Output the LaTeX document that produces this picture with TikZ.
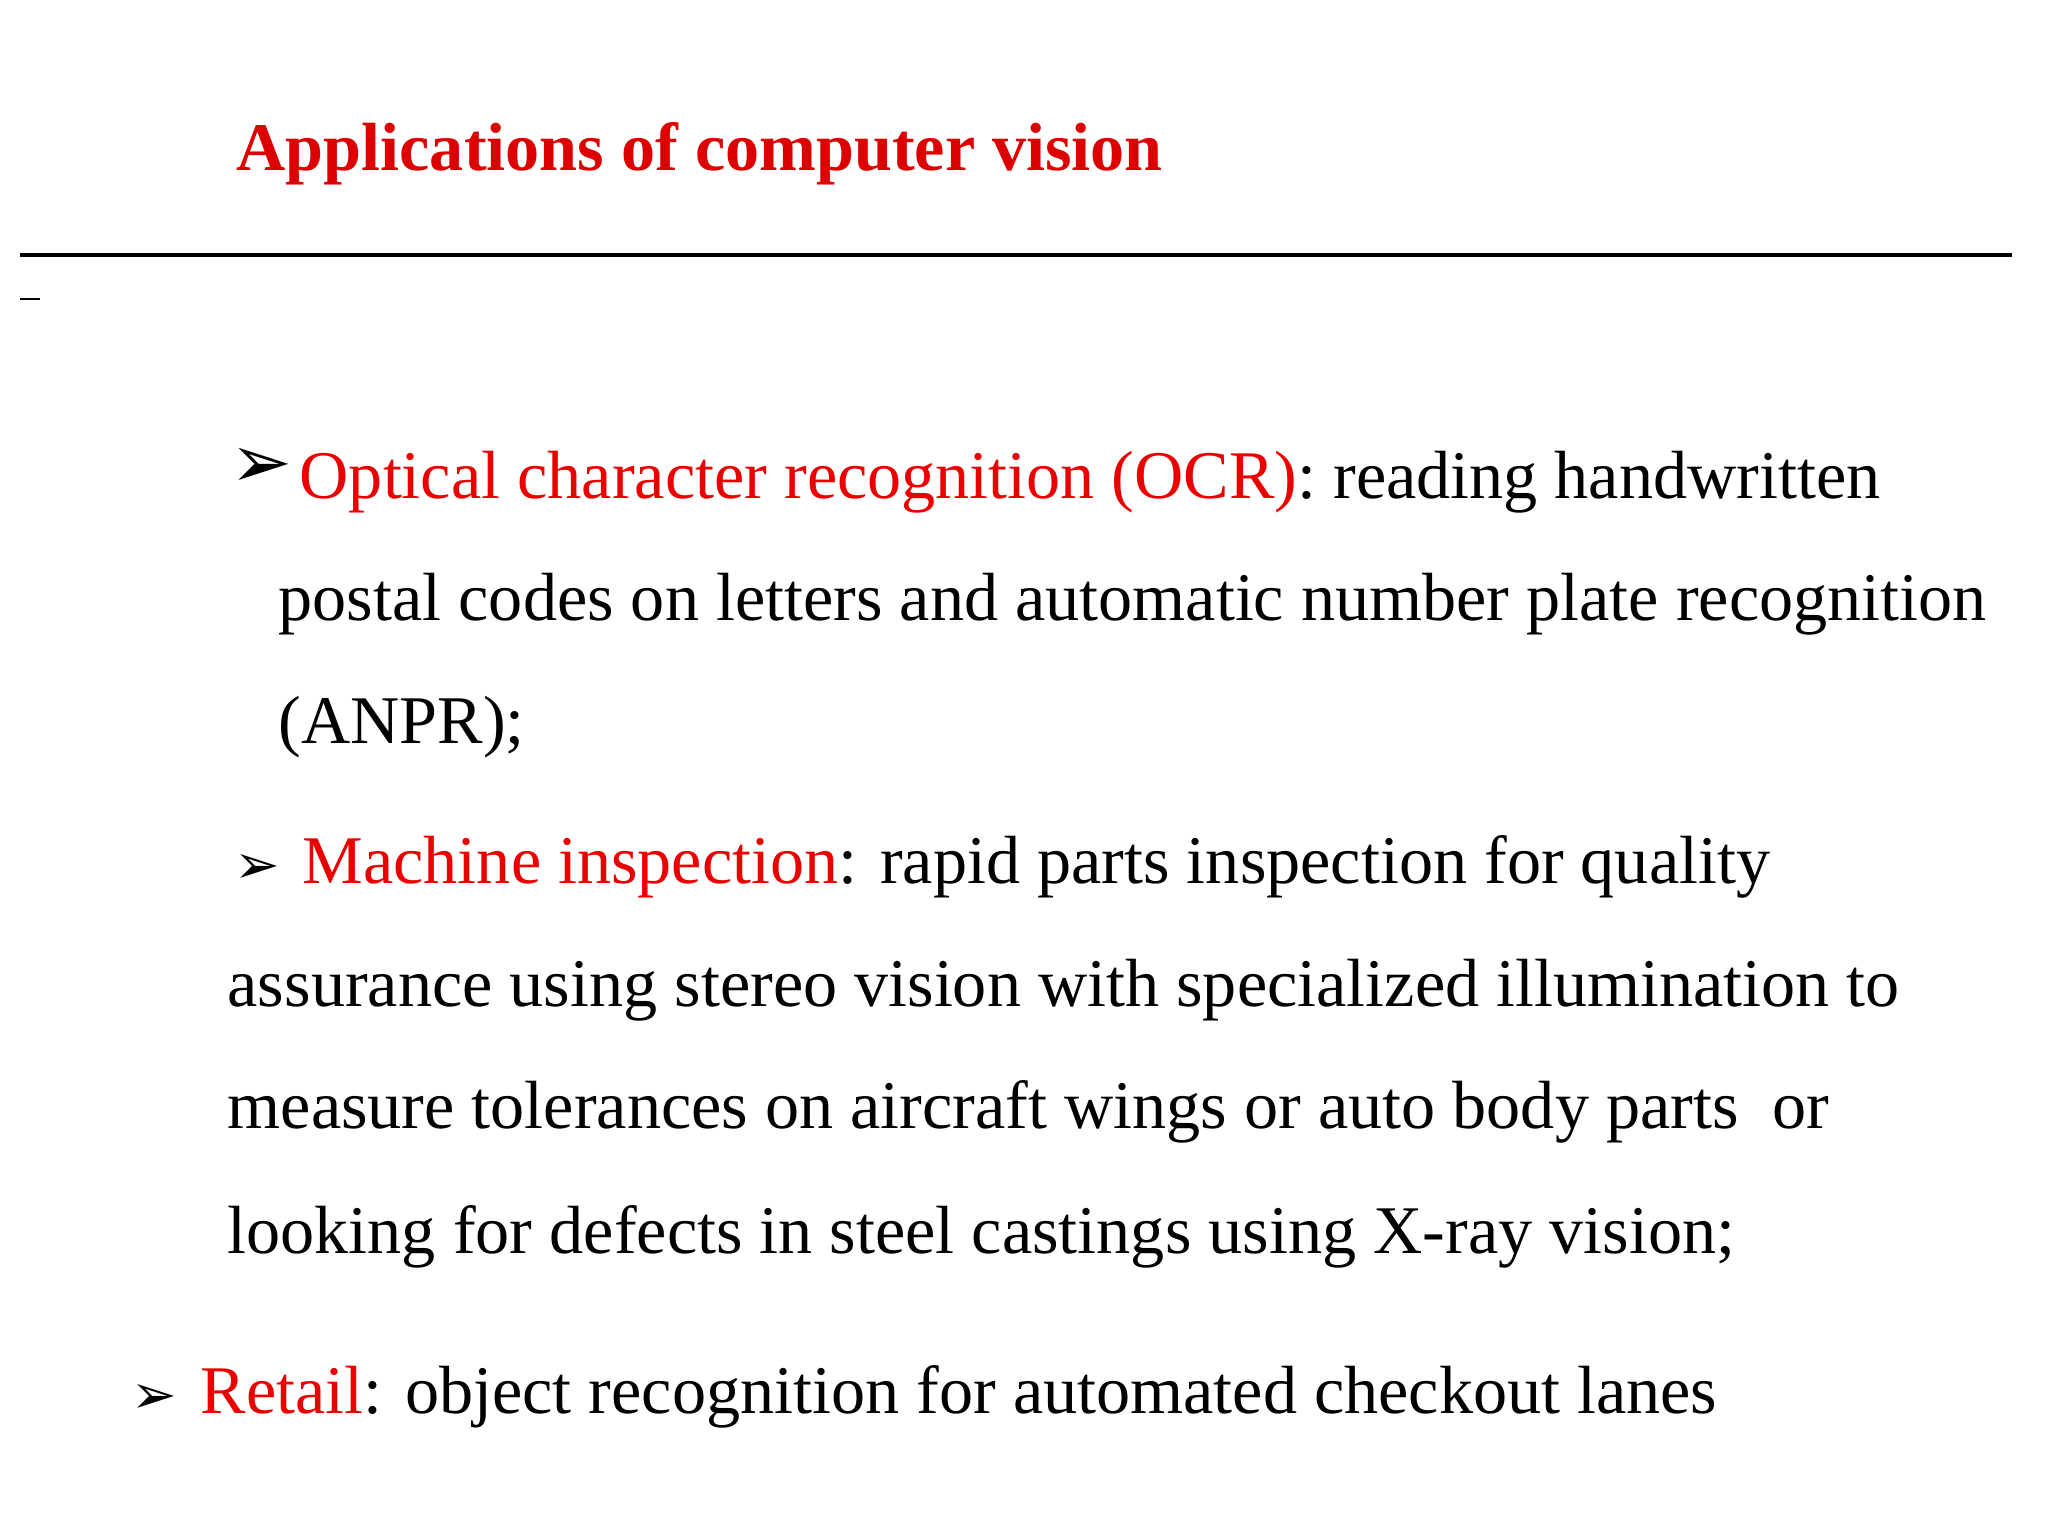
\documentclass[tikz,border=0pt]{standalone}
\usepackage{fontspec}
\setmainfont{Liberation Serif}
\newfontfamily\symfont{DejaVu Sans}
\definecolor{ttl}{RGB}{220,0,0}
\definecolor{hl}{RGB}{235,0,0}
\begin{document}
\begin{tikzpicture}
\tikzset{body/.style={anchor=base west,inner sep=0pt,font=\fontsize{19.4}{24}\selectfont},
 arr/.style={anchor=base west,inner sep=0pt,font=\symfont\fontsize{15.5}{19}\selectfont}}
\useasboundingbox (0,0) rectangle (20.48,15.36);
\node[anchor=base west,inner sep=0pt,font=\bfseries\fontsize{19.4}{24}\selectfont,text=ttl] (title) at (2.36,13.65) {Applications of computer vision};
\coordinate (r1) at (0.20,12.81); \coordinate (r2) at (20.12,12.81);
\draw[line width=0.9pt] (r1) -- (r2);
\coordinate (d1) at (0.20,12.37); \coordinate (d2) at (0.40,12.37);
\draw[line width=0.7pt] (d1) -- (d2);
\node[arr,font=\symfont\fontsize{21}{26}\selectfont] (a1) at (2.30,10.48) {➢};
\node[body] (l1) at (2.99,10.37) {\textcolor{hl}{Optical character recognition (OCR)}: reading handwritten};
\node[body] (l2) at (2.78,9.15) {postal codes on letters and automatic number plate recognition};
\node[body] (l3) at (2.78,7.92) {(ANPR);};
\node[arr] (a2) at (2.34,6.52) {➢};
\node[body] (l4) at (3.02,6.52) {\textcolor{hl}{Machine inspection}: rapid parts inspection for quality};
\node[body] (l5) at (2.27,5.29) {assurance using stereo vision with specialized illumination to};
\node[body] (l6) at (2.27,4.07) {measure tolerances on aircraft wings or auto body parts\ \ or};
\node[body] (l7) at (2.27,2.82) {looking for defects in steel castings using X-ray vision;};
\node[arr] (a3) at (1.31,1.22) {➢};
\node[body] (l8) at (2.00,1.22) {\textcolor{hl}{Retail}: object recognition for automated checkout lanes};
\end{tikzpicture}
\end{document}
